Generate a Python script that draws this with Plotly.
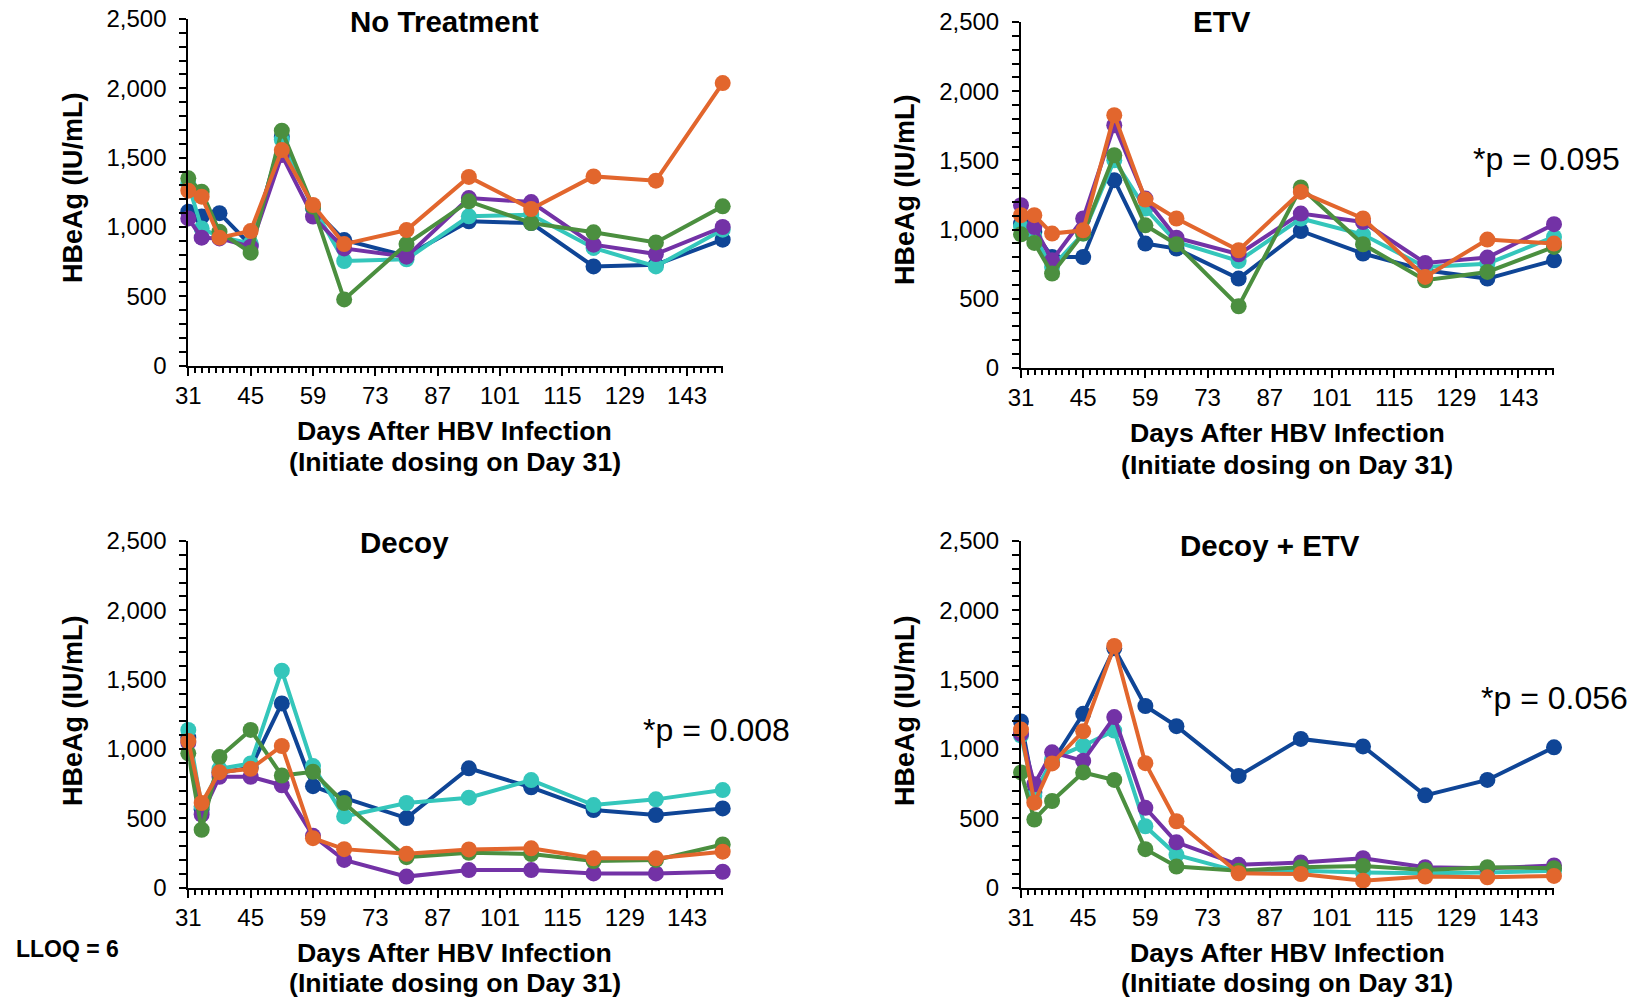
import plotly.graph_objects as go

days = [31, 34, 38, 45, 52, 59, 66, 80, 94, 108, 122, 136, 151]
x_ticks = [31, 45, 59, 73, 87, 101, 115, 129, 143]

panel_titles = ["No Treatment", "ETV", "Decoy", "Decoy + ETV"]
p_values = [None, "*p = 0.095", "*p = 0.008", "*p = 0.056"]

series_names = ["Animal 1", "Animal 2", "Animal 3", "Animal 4", "Animal 5"]
series_colors = ["#0F4596", "#34C6BB", "#7332A6", "#4B8F3F", "#E2662D"]

# Panel 1: No Treatment
nt_blue = [1110, 1075, 1100, 870, 1650, 1135, 906, 791, 1041, 1029, 716, 728, 909]
nt_teal = [1310, 990, 930, 882, 1630, 1147, 755, 767, 1077, 1089, 849, 716, 981]
nt_purple = [1062, 923, 918, 858, 1519, 1075, 846, 786, 1209, 1180, 873, 805, 1000]
nt_green = [1351, 1255, 966, 815, 1695, 1147, 478, 877, 1185, 1029, 962, 889, 1149]
nt_orange = [1262, 1219, 923, 971, 1555, 1159, 877, 978, 1361, 1130, 1365, 1334, 2038]

# Panel 2: ETV
etv_blue = [1043, 983, 802, 802, 1357, 899, 863, 646, 990, 827, 706, 646, 778]
etv_teal = [1020, 947, 730, 971, 1501, 1152, 911, 773, 1080, 964, 730, 754, 947]
etv_purple = [1176, 1019, 778, 1080, 1754, 1224, 942, 822, 1116, 1055, 759, 798, 1039]
etv_green = [966, 904, 682, 971, 1537, 1031, 894, 446, 1304, 894, 634, 694, 875]
etv_orange = [1104, 1104, 971, 995, 1827, 1217, 1080, 851, 1272, 1080, 658, 928, 899]

# Panel 3: Decoy
dec_blue = [1082, 563, 829, 865, 1329, 732, 647, 502, 861, 724, 560, 524, 572]
dec_teal = [1138, 587, 857, 896, 1565, 877, 514, 611, 649, 776, 596, 637, 704]
dec_purple = [1046, 527, 800, 800, 739, 374, 200, 80, 127, 127, 103, 103, 115]
dec_green = [969, 418, 942, 1138, 809, 836, 611, 220, 252, 243, 192, 200, 312]
dec_orange = [1058, 611, 833, 857, 1022, 357, 278, 244, 276, 284, 212, 212, 260]

# Panel 4: Decoy + ETV
de_blue = [1199, 685, 903, 1254, 1726, 1310, 1165, 806, 1073, 1019, 666, 777, 1012]
de_teal = [1097, 661, 927, 1024, 1133, 443, 237, 116, 123, 109, 104, 109, 123]
de_purple = [1109, 746, 976, 915, 1230, 576, 327, 165, 182, 213, 148, 140, 160]
de_green = [831, 492, 625, 831, 777, 278, 153, 123, 148, 157, 128, 148, 140]
de_orange = [1140, 613, 896, 1128, 1743, 898, 479, 104, 99, 51, 80, 75, 85]

panels = [
    [nt_blue, nt_teal, nt_purple, nt_green, nt_orange],
    [etv_blue, etv_teal, etv_purple, etv_green, etv_orange],
    [dec_blue, dec_teal, dec_purple, dec_green, dec_orange],
    [de_blue, de_teal, de_purple, de_green, de_orange],
]

W, H = 1631, 997
FONT = "Liberation Sans, Arial, sans-serif"

# pixel boxes: (left, right, top, bottom)
boxes = [
    (188.3, 722.7, 19.0, 365.7),
    (1021.0, 1554.0, 22.0, 368.0),
    (188.3, 722.7, 541.0, 887.7),
    (1021.0, 1554.0, 541.0, 887.7),
]

fig = go.Figure()
layout = dict(
    width=W, height=H, autosize=False,
    margin=dict(l=0, r=0, t=0, b=0, pad=0, autoexpand=False),
    paper_bgcolor="white", plot_bgcolor="white",
    showlegend=False,
    font=dict(family=FONT, color="black"),
)

annotations = []
for i, (series, box) in enumerate(zip(panels, boxes)):
    n = "" if i == 0 else str(i + 1)
    l, r, t, b = box
    xdom = [l / W, r / W]
    ydom = [1 - b / H, 1 - t / H]
    for vals, name, col in zip(series, series_names, series_colors):
        fig.add_trace(go.Scatter(
            x=days, y=vals, name=name, mode="lines+markers",
            line=dict(color=col, width=4),
            marker=dict(color=col, size=16),
            xaxis="x" + n, yaxis="y" + n, cliponaxis=False,
        ))
    layout["xaxis" + n] = dict(
        domain=xdom, anchor="y" + n, range=[31, 151], automargin=False,
        tickmode="array", tickvals=x_ticks,
        showgrid=False, zeroline=False,
        showline=True, linecolor="black", linewidth=2,
        ticks="outside", ticklen=8, tickwidth=2, tickcolor="black",
        tickfont=dict(size=24, family=FONT, color="black"),
        ticklabelstandoff=-1,
        minor=dict(tick0=31, dtick=14 / 9, ticks="outside", ticklen=5,
                   tickwidth=2, tickcolor="black", showgrid=False),
    )
    layout["yaxis" + n] = dict(
        domain=ydom, anchor="x" + n, range=[0, 2500], automargin=False,
        tick0=0, dtick=500, tickformat=",",
        showgrid=False, zeroline=False,
        showline=True, linecolor="black", linewidth=2,
        ticks="outside", ticklen=7, tickwidth=2, tickcolor="black",
        tickfont=dict(size=24, family=FONT, color="black"),
        ticklabelstandoff=8,
        minor=dict(tick0=0, dtick=100, ticks="outside", ticklen=7,
                   tickwidth=2, tickcolor="black", showgrid=False),
    )

title_pos = [(444, 21), (1222, 21), (404, 542), (1270, 545)]
for txt, (px, py) in zip(panel_titles, title_pos):
    annotations.append(dict(text="<b>" + txt + "</b>", x=px / W, y=1 - py / H,
                            xref="paper", yref="paper", showarrow=False,
                            xanchor="center", yanchor="middle",
                            font=dict(size=29.5, family=FONT, color="black")))

xt_pos = [(455, 431, 462), (1287, 433, 465), (455, 953, 983), (1287, 953, 983)]
for px, y1, y2 in xt_pos:
    annotations.append(dict(text="<b>Days After HBV Infection</b>", x=px / W, y=1 - y1 / H,
                            xref="paper", yref="paper", showarrow=False,
                            xanchor="center", yanchor="middle",
                            font=dict(size=26.7, family=FONT, color="black")))
    annotations.append(dict(text="<b>(Initiate dosing on Day 31)</b>", x=px / W, y=1 - y2 / H,
                            xref="paper", yref="paper", showarrow=False,
                            xanchor="center", yanchor="middle",
                            font=dict(size=26.7, family=FONT, color="black")))

yt_pos = [(73, 188), (905, 190), (73, 711), (905, 711)]
for px, py in yt_pos:
    annotations.append(dict(text="<b>HBeAg (IU/mL)</b>", x=px / W, y=1 - py / H,
                            xref="paper", yref="paper", showarrow=False, textangle=-90,
                            xanchor="center", yanchor="middle",
                            font=dict(size=27, family=FONT, color="black")))

p_pos = [None, (1471, 159), (641, 730), (1479, 698)]
for txt, pos in zip(p_values, p_pos):
    if txt is None:
        continue
    annotations.append(dict(text=txt, x=pos[0] / W, y=1 - pos[1] / H,
                            xref="paper", yref="paper", showarrow=False,
                            xanchor="left", yanchor="middle",
                            font=dict(size=32, family=FONT, color="black")))

annotations.append(dict(text="<b>LLOQ = 6</b>", x=14 / W, y=1 - 949 / H,
                        xref="paper", yref="paper", showarrow=False,
                        xanchor="left", yanchor="middle",
                        font=dict(size=23, family=FONT, color="black")))

layout["annotations"] = annotations
fig.update_layout(**layout)

fig.write_html("out.html", config={"displayModeBar": False},
               post_script="document.body.style.margin='0';document.body.style.overflow='hidden';")
